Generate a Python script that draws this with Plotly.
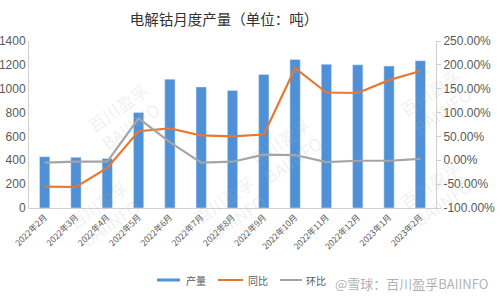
import plotly.graph_objects as go

categories = ["2022年2月", "2022年3月", "2022年4月", "2022年5月", "2022年6月", "2022年7月",
              "2022年8月", "2022年9月", "2022年10月", "2022年11月", "2022年12月",
              "2023年1月", "2023年2月"]
output_t = [430, 425, 415, 800, 1080, 1015, 985, 1120, 1245, 1205, 1200, 1190, 1235]
yoy_pct = [-55, -56, -16, 61, 67, 52, 50, 54, 193, 142, 141, 168, 187]
mom_pct = [-5, -3, -3, 88, 38, -5, -3, 12, 11, -4, -1, -1, 3]

left_ticks = [0, 200, 400, 600, 800, 1000, 1200, 1400]
right_ticks = [-100, -50, 0, 50, 100, 150, 200, 250]
right_labels = ["-100.00%", "-50.00%", "0.00%", "50.00%", "100.00%", "150.00%", "200.00%", "250.00%"]

BLUE = "#4F90D6"
ORANGE = "#E8782F"
GRAY = "#A5A5A5"
TXT = "#595959"

fig = go.Figure()
fig.add_trace(go.Bar(x=categories, y=output_t, name="产量", marker_color=BLUE,
                     width=0.33, yaxis="y"))
fig.add_trace(go.Scatter(x=categories, y=yoy_pct, name="同比", mode="lines",
                         line=dict(color=ORANGE, width=2.2), yaxis="y2"))
fig.add_trace(go.Scatter(x=categories, y=mom_pct, name="环比", mode="lines",
                         line=dict(color=GRAY, width=2.2), yaxis="y2"))

W, L, R, T, B = 500, 29, 64, 41, 92
pw = W - L - R
ph = 300 - T - B

def px(x):
    return (x - L) / pw

def py(y):
    return (300 - B - y) / ph

shapes = []
annotations = []
# custom legend
shapes.append(dict(type="rect", xref="paper", yref="paper", x0=px(157), x1=px(180),
                   y0=py(281.5), y1=py(278.5), fillcolor=BLUE, line=dict(width=0)))
shapes.append(dict(type="line", xref="paper", yref="paper", x0=px(218), x1=px(243),
                   y0=py(280), y1=py(280), line=dict(color=ORANGE, width=2)))
shapes.append(dict(type="line", xref="paper", yref="paper", x0=px(280), x1=px(302),
                   y0=py(280), y1=py(280), line=dict(color=GRAY, width=2)))
for txt, x in [("产量", 184), ("同比", 246), ("环比", 304)]:
    annotations.append(dict(text=txt, xref="paper", yref="paper", x=px(x), y=py(280),
                            xanchor="left", yanchor="middle", showarrow=False,
                            font=dict(size=10, color=TXT, family="Noto Sans CJK SC")))

# watermarks
wm = "rgba(180,180,180,0.2)"
for (x, y) in [(80, 75), (60, 255), (230, 250), (480, 235), (480, 60), (330, 150)]:
    annotations.append(dict(text="百川盈孚<br>BAIINFO", xref="paper", yref="paper",
                            x=px(x), y=py(y), showarrow=False, textangle=-35,
                            font=dict(size=17, color=wm, family="Noto Sans CJK SC")))
annotations.append(dict(text="@雪球：百川盈孚BAIINFO", xref="paper", yref="paper",
                        x=px(490), y=py(283), xanchor="right", yanchor="middle",
                        showarrow=False,
                        font=dict(size=13, color="rgba(150,150,150,0.75)",
                                  family="Noto Sans CJK SC")))

fig.update_layout(
    width=500, height=300,
    margin=dict(l=L, r=R, t=T, b=B, autoexpand=False),
    paper_bgcolor="white", plot_bgcolor="white",
    showlegend=False,
    title=dict(text="电解钴月度产量（单位：吨）", x=224 / 500, xanchor="center",
               y=1 - 20 / 300, yanchor="middle",
               font=dict(size=14.5, color="#333333", family="Noto Sans CJK SC")),
    xaxis=dict(type="category", tickangle=-45, showline=True, linecolor="#D0D0D0",
               ticks="", tickfont=dict(size=8.5, color=TXT, family="Noto Sans CJK SC"),
               showgrid=False, range=[-0.5, len(categories) - 0.5], automargin=False),
    yaxis=dict(range=[0, 1400], tickvals=left_ticks, showgrid=False, showline=True,
               linecolor="#D0D0D0", ticks="", zeroline=False, automargin=False,
               tickfont=dict(size=12, color=TXT, family="Liberation Sans")),
    yaxis2=dict(range=[-100, 250], tickvals=right_ticks, ticktext=right_labels,
                overlaying="y", side="right", showgrid=False, showline=True,
                linecolor="#D0D0D0", ticks="outside", ticklen=4, tickcolor="#D0D0D0",
                zeroline=False, automargin=False,
                tickfont=dict(size=12, color=TXT, family="Liberation Sans")),
    shapes=shapes, annotations=annotations,
)

fig.write_html("out.html")
